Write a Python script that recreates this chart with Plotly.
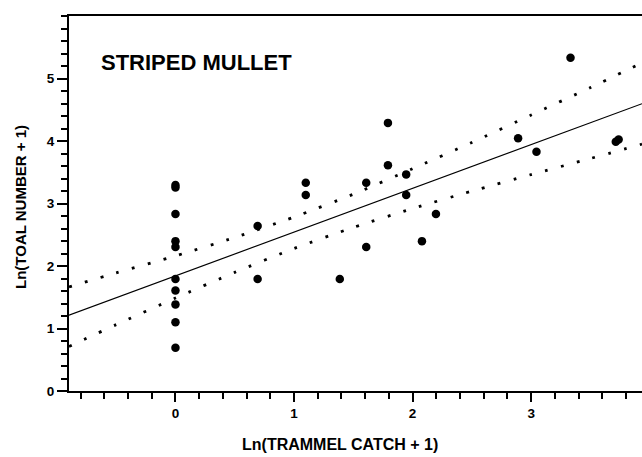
import plotly.graph_objects as go

# Observations: ln(trammel catch + 1) vs ln(total number + 1)
catch_x = [0, 0, 0, 0, 0, 0, 0, 0, 0, 0,
           0.693, 0.693, 1.099, 1.099, 1.386, 1.609, 1.609,
           1.792, 1.792, 1.946, 1.946, 2.079, 2.197, 2.890,
           3.045, 3.332, 3.714, 3.738]
total_y = [3.296, 3.258, 2.833, 2.398, 2.303, 1.792, 1.609, 1.386, 1.099, 0.693,
           2.639, 1.792, 3.332, 3.135, 1.792, 3.332, 2.303,
           4.290, 3.611, 3.466, 3.135, 2.398, 2.833, 4.043,
           3.829, 5.333, 3.989, 4.025]

# Fitted regression line
fit_x = [-0.898, 3.935]
fit_y = [1.213, 4.597]

# 95% confidence band
band_x = [-0.898, -0.5, 0.0, 0.5, 1.0, 1.5, 2.0, 2.5, 3.0, 3.5, 3.935]
band_upper = [1.665, 1.89, 2.162, 2.456, 2.783, 3.149, 3.556, 3.977, 4.416, 4.855, 5.25]
band_lower = [0.713, 1.062, 1.487, 1.898, 2.28, 2.617, 2.92, 3.198, 3.463, 3.72, 3.95]

x_ticks = [0, 1, 2, 3]
y_ticks = [0, 1, 2, 3, 4, 5]

FONT = "Liberation Sans, Arial, sans-serif"

fig = go.Figure()
for yy in (band_upper, band_lower):
    fig.add_trace(go.Scatter(x=band_x, y=yy, mode="lines",
                             line=dict(color="black", width=2.8, dash="2.8px,13.6px",
                                       shape="spline", smoothing=0.6),
                             hoverinfo="skip", showlegend=False))
fig.add_trace(go.Scatter(x=fit_x, y=fit_y, mode="lines",
                         line=dict(color="black", width=1.2), showlegend=False))
fig.add_trace(go.Scatter(x=catch_x, y=total_y, mode="markers",
                         marker=dict(color="black", size=8.5, symbol="circle"),
                         showlegend=False))

fig.update_layout(
    width=642, height=457,
    margin=dict(l=69, r=0, t=16, b=66),
    paper_bgcolor="white", plot_bgcolor="white",
    font=dict(family=FONT, color="black", size=12),
    xaxis=dict(range=[-0.898, 3.935], tickvals=x_ticks, ticktext=[str(v) for v in x_ticks],
               showgrid=False, zeroline=False, showline=True, linecolor="black", linewidth=2,
               mirror=True, ticks="outside", ticklen=9, tickwidth=2, tickcolor="black",
               tickfont=dict(family=FONT, size=13.5, color="black", weight="bold"),
               minor=dict(tick0=0, dtick=0.2, ticks="outside", ticklen=6, tickwidth=2,
                          tickcolor="black", showgrid=False)),
    yaxis=dict(range=[0, 6], tickvals=y_ticks, ticktext=[str(v) for v in y_ticks],
               showgrid=False, zeroline=False, showline=True, linecolor="black", linewidth=2,
               ticks="outside", ticklen=10, tickwidth=2, tickcolor="black",
               tickfont=dict(family=FONT, size=13.5, color="black", weight="bold"),
               minor=dict(tick0=0, dtick=0.2, ticks="outside", ticklen=6, tickwidth=2,
                          tickcolor="black", showgrid=False)),
    annotations=[
        dict(text="<b>STRIPED MULLET</b>", xref="paper", yref="paper",
             x=(99 - 69) / 573, y=1 - (62 - 16) / 375, xanchor="left", yanchor="middle",
             showarrow=False, font=dict(family=FONT, size=22, color="black")),
        dict(text="<b>Ln(TRAMMEL CATCH + 1)</b>", xref="paper", yref="paper",
             x=(340 - 69) / 573, y=-(444 - 391) / 375, xanchor="center", yanchor="middle",
             showarrow=False, font=dict(family=FONT, size=16, color="black")),
        dict(text="<b>Ln(TOAL NUMBER + 1)</b>", xref="paper", yref="paper",
             x=-(69 - 20) / 573, y=1 - (207 - 16) / 375, xanchor="center", yanchor="middle",
             textangle=-90, showarrow=False, font=dict(family=FONT, size=15, color="black")),
    ],
)

fig.write_html("out.html")
